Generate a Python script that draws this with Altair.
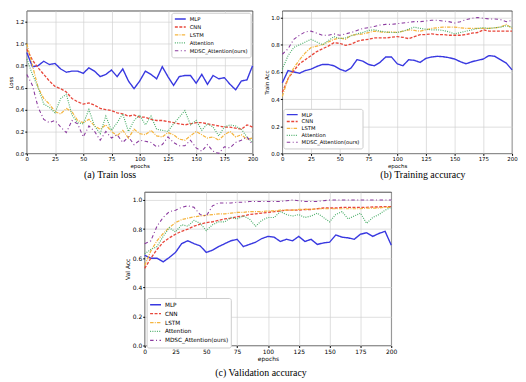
import altair as alt
import pandas as pd

epochs = list(range(0, 201, 5))
models = ["MLP", "CNN", "LSTM", "Attention", "MDSC_Attention(ours)"]
colors = ["#3838e0", "#e8473b", "#f5b53f", "#4daf6b", "#8b3a9f"]
dashes = [[1, 0], [3, 1.5], [3.5, 1.2, 1, 1.2], [1, 1.3], [3.5, 2.5, 1, 2.5]]
widths = [1.4, 1.1, 1.1, 1.1, 1.1]
x_ticks = [0, 25, 50, 75, 100, 125, 150, 175, 200]
loss_ticks = [0.0, 0.2, 0.4, 0.6, 0.8, 1.0, 1.2]
acc_ticks = [0.0, 0.2, 0.4, 0.6, 0.8, 1.0]

# (a) Train loss
loss_mlp = [0.92, 0.79, 0.80, 0.84, 0.81, 0.82, 0.77, 0.74, 0.75, 0.75, 0.73, 0.78, 0.75, 0.70,
            0.72, 0.76, 0.70, 0.77, 0.66, 0.59, 0.66, 0.75, 0.72, 0.68, 0.79, 0.70, 0.62, 0.70,
            0.71, 0.71, 0.64, 0.72, 0.63, 0.71, 0.68, 0.69, 0.63, 0.58, 0.66, 0.67, 0.80]
loss_cnn = [0.95, 0.85, 0.78, 0.72, 0.66, 0.61, 0.59, 0.56, 0.50, 0.47, 0.45, 0.46, 0.44, 0.41,
            0.40, 0.39, 0.37, 0.36, 0.34, 0.35, 0.33, 0.33, 0.31, 0.30, 0.30, 0.29, 0.28, 0.27,
            0.26, 0.27, 0.28, 0.28, 0.27, 0.26, 0.25, 0.24, 0.24, 0.23, 0.22, 0.26, 0.24]
loss_lstm = [1.00, 0.80, 0.60, 0.50, 0.45, 0.38, 0.36, 0.41, 0.38, 0.30, 0.28, 0.31, 0.25, 0.22,
             0.26, 0.20, 0.16, 0.21, 0.14, 0.22, 0.18, 0.17, 0.21, 0.16, 0.15, 0.19, 0.17, 0.13,
             0.12, 0.16, 0.20, 0.17, 0.14, 0.15, 0.12, 0.17, 0.20, 0.15, 0.17, 0.13, 0.14]
loss_att = [0.86, 0.72, 0.60, 0.45, 0.42, 0.37, 0.50, 0.54, 0.35, 0.28, 0.27, 0.40, 0.25, 0.18,
            0.34, 0.21, 0.28, 0.36, 0.20, 0.30, 0.35, 0.26, 0.34, 0.22, 0.21, 0.20, 0.27, 0.33,
            0.39, 0.26, 0.30, 0.21, 0.27, 0.24, 0.16, 0.24, 0.26, 0.25, 0.22, 0.15, 0.10]
loss_mdsc = [0.72, 0.62, 0.42, 0.31, 0.28, 0.30, 0.24, 0.19, 0.30, 0.27, 0.15, 0.25, 0.20, 0.12,
             0.20, 0.14, 0.17, 0.10, 0.15, 0.08, 0.12, 0.11, 0.10, 0.06, 0.08, 0.15, 0.10, 0.07,
             0.07, 0.12, 0.05, 0.02, 0.08, 0.02, 0.00, 0.06, 0.05, 0.10, 0.12, 0.15, 0.08]

# (b) Training accuracy
tacc_mlp = [0.52, 0.61, 0.60, 0.59, 0.61, 0.62, 0.64, 0.655, 0.655, 0.645, 0.62, 0.605, 0.63, 0.69,
            0.68, 0.655, 0.645, 0.67, 0.71, 0.71, 0.66, 0.645, 0.69, 0.685, 0.67, 0.70, 0.71, 0.715,
            0.712, 0.705, 0.695, 0.675, 0.66, 0.675, 0.685, 0.695, 0.72, 0.715, 0.69, 0.665, 0.615]
tacc_cnn = [0.45, 0.55, 0.61, 0.66, 0.69, 0.72, 0.75, 0.77, 0.79, 0.815, 0.81, 0.795, 0.805, 0.825,
            0.835, 0.84, 0.85, 0.85, 0.85, 0.855, 0.86, 0.855, 0.845, 0.86, 0.875, 0.875, 0.88, 0.875,
            0.875, 0.87, 0.87, 0.87, 0.875, 0.885, 0.89, 0.91, 0.90, 0.90, 0.90, 0.90, 0.90]
tacc_lstm = [0.42, 0.55, 0.63, 0.69, 0.74, 0.78, 0.79, 0.80, 0.82, 0.84, 0.85, 0.84, 0.87, 0.875,
             0.88, 0.89, 0.90, 0.895, 0.89, 0.895, 0.89, 0.90, 0.91, 0.905, 0.90, 0.91, 0.92, 0.925,
             0.93, 0.93, 0.93, 0.925, 0.92, 0.92, 0.92, 0.92, 0.92, 0.925, 0.93, 0.95, 0.92]
tacc_att = [0.62, 0.72, 0.78, 0.80, 0.82, 0.84, 0.82, 0.80, 0.83, 0.86, 0.845, 0.85, 0.865, 0.88,
            0.89, 0.905, 0.91, 0.90, 0.895, 0.89, 0.89, 0.90, 0.915, 0.93, 0.92, 0.915, 0.91, 0.91,
            0.905, 0.895, 0.88, 0.89, 0.90, 0.91, 0.92, 0.925, 0.92, 0.925, 0.93, 0.94, 0.93]
tacc_mdsc = [0.73, 0.77, 0.84, 0.87, 0.895, 0.90, 0.885, 0.87, 0.87, 0.88, 0.87, 0.88, 0.89, 0.905,
             0.92, 0.925, 0.935, 0.945, 0.95, 0.95, 0.955, 0.96, 0.965, 0.97, 0.97, 0.975, 0.98, 0.98,
             0.975, 0.97, 0.96, 0.97, 0.985, 0.995, 1.00, 0.995, 0.99, 0.99, 0.985, 0.97, 0.98]

# (c) Validation accuracy
vacc_mlp = [0.62, 0.60, 0.60, 0.575, 0.605, 0.64, 0.70, 0.72, 0.70, 0.685, 0.64, 0.655, 0.68, 0.70,
            0.72, 0.73, 0.68, 0.695, 0.71, 0.735, 0.75, 0.745, 0.715, 0.73, 0.72, 0.75, 0.715, 0.73,
            0.695, 0.705, 0.71, 0.76, 0.745, 0.74, 0.73, 0.765, 0.775, 0.75, 0.77, 0.785, 0.69]
vacc_cnn = [0.53, 0.60, 0.66, 0.71, 0.74, 0.765, 0.785, 0.80, 0.82, 0.835, 0.845, 0.85, 0.86, 0.87,
            0.875, 0.885, 0.89, 0.90, 0.905, 0.91, 0.915, 0.92, 0.925, 0.93, 0.93, 0.93, 0.935, 0.935,
            0.94, 0.945, 0.945, 0.945, 0.95, 0.95, 0.95, 0.95, 0.95, 0.952, 0.952, 0.955, 0.955]
vacc_lstm = [0.55, 0.65, 0.72, 0.77, 0.81, 0.845, 0.865, 0.875, 0.885, 0.89, 0.895, 0.90, 0.905, 0.905,
             0.91, 0.915, 0.915, 0.92, 0.92, 0.92, 0.925, 0.925, 0.93, 0.93, 0.93, 0.935, 0.935, 0.935,
             0.94, 0.94, 0.94, 0.94, 0.94, 0.94, 0.94, 0.94, 0.945, 0.945, 0.945, 0.95, 0.95]
vacc_att = [0.63, 0.66, 0.68, 0.75, 0.81, 0.78, 0.83, 0.82, 0.86, 0.84, 0.79, 0.83, 0.85, 0.85,
            0.88, 0.87, 0.89, 0.87, 0.82, 0.86, 0.88, 0.88, 0.92, 0.90, 0.89, 0.90, 0.88, 0.89,
            0.91, 0.88, 0.85, 0.90, 0.92, 0.87, 0.89, 0.91, 0.84, 0.88, 0.90, 0.93, 0.95]
vacc_mdsc = [0.70, 0.72, 0.82, 0.88, 0.92, 0.93, 0.95, 0.96, 0.95, 0.90, 0.89, 0.96, 0.98, 0.98,
             0.98, 0.985, 0.985, 0.99, 0.99, 0.99, 0.99, 0.99, 0.99, 0.995, 1.00, 0.995, 0.99, 0.99,
             0.99, 0.995, 1.00, 1.00, 1.00, 1.00, 1.00, 1.00, 1.00, 1.00, 1.00, 1.00, 1.00]


def long_df(series_list):
    rows = []
    for m, vals in zip(models, series_list):
        for e, v in zip(epochs, vals):
            rows.append({"epoch": e, "value": v, "model": m})
    return pd.DataFrame(rows)


def panel(series_list, ytitle, ymax, yticks, w, h, fs, leg_pos, leg_fs, leg_clip,
          caption, cap_dx, cap_offset):
    df = long_df(series_list)
    leg_kw = dict(title=None, symbolType="stroke", symbolSize=121, symbolStrokeWidth=1.2,
                  labelFont="DejaVu Sans", labelFontSize=leg_fs, labelColor="black",
                  rowPadding=0, padding=2.5, labelOffset=3, clipHeight=leg_clip,
                  fillColor="white", strokeColor="#cccccc", cornerRadius=2)
    leg_kw.update(leg_pos)
    leg = alt.Legend(**leg_kw)
    ax_common = dict(labelFont="DejaVu Sans", titleFont="DejaVu Sans",
                     labelFontSize=fs, titleFontSize=fs, titleFontWeight="normal",
                     labelColor="black", titleColor="black", tickColor="black",
                     tickSize=2, labelPadding=1, titlePadding=1.5, domain=False,
                     gridColor="#d0d0d0", gridWidth=0.7, labelFlush=False,
                     labelOverlap=False)
    return alt.Chart(df).mark_line().encode(
        x=alt.X("epoch:Q", scale=alt.Scale(domain=[0, 200], nice=False),
                axis=alt.Axis(title="epochs", values=x_ticks, format="d", **ax_common)),
        y=alt.Y("value:Q", scale=alt.Scale(domain=[0, ymax], nice=False, zero=False),
                axis=alt.Axis(title=ytitle, values=yticks, format=".1f", **ax_common)),
        color=alt.Color("model:N", scale=alt.Scale(domain=models, range=colors),
                        sort=models, legend=leg),
        strokeDash=alt.StrokeDash("model:N", scale=alt.Scale(domain=models, range=dashes),
                                  sort=models, legend=leg),
        strokeWidth=alt.StrokeWidth("model:N", scale=alt.Scale(domain=models, range=widths),
                                    legend=None),
    ).properties(
        width=w, height=h,
        view=alt.ViewBackground(stroke="black", strokeWidth=0.7),
        title=alt.TitleParams(text=caption, orient="bottom", anchor="middle", frame="group",
                              font="Liberation Serif", fontSize=10, fontWeight="normal",
                              color="black", dx=cap_dx, offset=cap_offset),
    )


chart_a = panel([loss_mlp, loss_cnn, loss_lstm, loss_att, loss_mdsc], "Loss", 1.3,
                loss_ticks, 228, 144, 5.5, dict(orient="top-right", offset=2), 5.3, 7.7,
                "(a) Train loss", -30, 1)
chart_b = panel([tacc_mlp, tacc_cnn, tacc_lstm, tacc_att, tacc_mdsc], "Train Acc", 1.05,
                acc_ticks, 232, 144, 5.5, dict(orient="none", legendX=1, legendY=99), 5.3, 6.6,
                "(b) Training accuracy", 26, 1)
chart_c = panel([vacc_mlp, vacc_cnn, vacc_lstm, vacc_att, vacc_mdsc], "Val Acc", 1.055,
                acc_ticks, 249, 155, 6, dict(orient="none", legendX=2, legendY=107), 5.8, 8.6,
                "(c) Validation accuracy", -7, 6)

spacer = alt.Chart(pd.DataFrame({"v": [0]})).mark_point(opacity=0).encode(
    x=alt.X("v:Q", axis=None), y=alt.Y("v:Q", axis=None)
).properties(width=97, height=10, view=alt.ViewBackground(stroke="transparent"))

indep = dict(color="independent", strokeDash="independent", strokeWidth="independent")

top_row = alt.hconcat(chart_a, chart_b, spacing=5).resolve_scale(**indep)
bottom_row = alt.hconcat(spacer, chart_c, spacing=0).resolve_scale(**indep)

chart = alt.vconcat(top_row, bottom_row, spacing=11).properties(
    padding={"left": 0, "top": 0, "right": 0, "bottom": 0}
).resolve_scale(**indep)

chart.save("out.html", embed_options={"renderer": "svg", "actions": False})
